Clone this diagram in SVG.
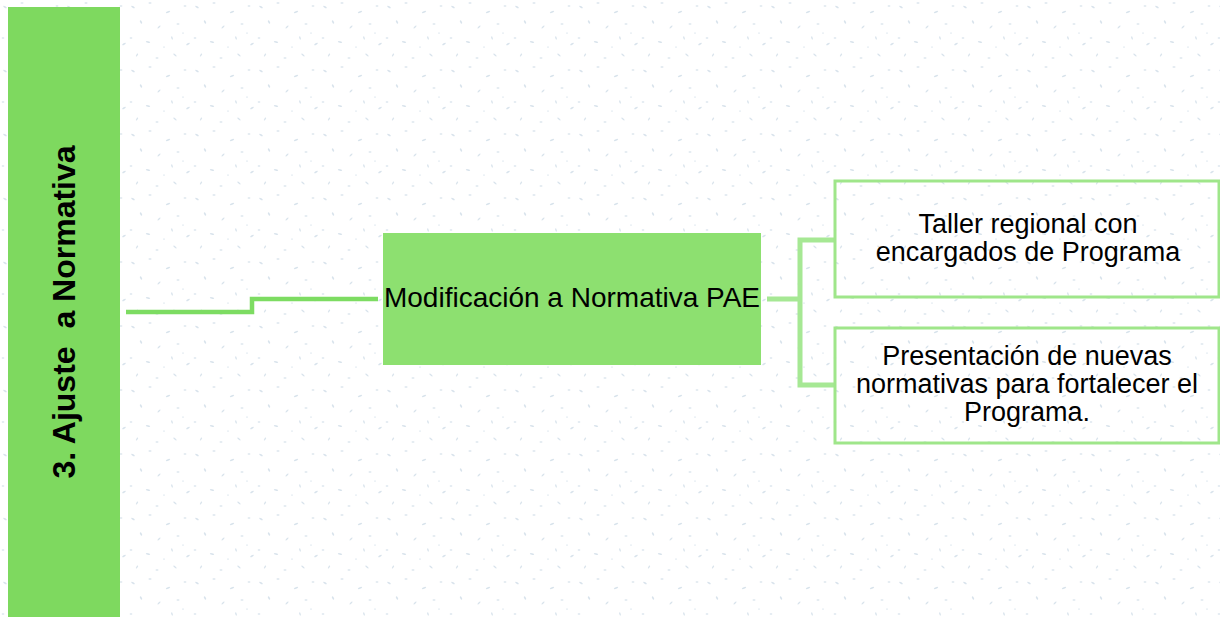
<svg xmlns="http://www.w3.org/2000/svg" width="1220" height="617" viewBox="0 0 1220 617">
<style>
  .t { font-family: "Liberation Sans", Arial, sans-serif; fill: #000; }
  .rb { fill: none; stroke: #9fe68a; stroke-width: 3; }
  .cl { fill: none; stroke: #7ddc62; stroke-width: 4.5; }
  .cr { fill: none; stroke: #a6e894; stroke-width: 5; }
</style>
<defs>
  <pattern id="speck" width="64" height="64" patternUnits="userSpaceOnUse">
    <rect width="64" height="64" fill="#ffffff"/>
    <g fill="#d8e3ec">
      <ellipse cx="5" cy="7" rx="2" ry="0.8" transform="rotate(30 5 7)"/>
      <ellipse cx="22" cy="3" rx="1.6" ry="0.7"/>
      <ellipse cx="40" cy="12" rx="2.2" ry="0.8" transform="rotate(-20 40 12)"/>
      <ellipse cx="57" cy="6" rx="1.4" ry="0.7"/>
      <ellipse cx="13" cy="22" rx="1.8" ry="0.8" transform="rotate(60 13 22)"/>
      <ellipse cx="31" cy="27" rx="2" ry="0.7" transform="rotate(-45 31 27)"/>
      <ellipse cx="50" cy="24" rx="1.5" ry="0.8"/>
      <ellipse cx="3" cy="38" rx="1.3" ry="0.7"/>
      <ellipse cx="20" cy="42" rx="2.2" ry="0.8" transform="rotate(15 20 42)"/>
      <ellipse cx="44" cy="38" rx="1.7" ry="0.7" transform="rotate(70 44 38)"/>
      <ellipse cx="60" cy="44" rx="2" ry="0.8" transform="rotate(-30 60 44)"/>
      <ellipse cx="9" cy="55" rx="1.8" ry="0.7" transform="rotate(-60 9 55)"/>
      <ellipse cx="29" cy="58" rx="1.5" ry="0.8"/>
      <ellipse cx="47" cy="55" rx="2.1" ry="0.7" transform="rotate(40 47 55)"/>
      <ellipse cx="36" cy="47" rx="1" ry="0.6"/>
      <ellipse cx="55" cy="33" rx="1" ry="0.6"/>
    </g>
  </pattern>
</defs>
<rect width="1220" height="617" fill="url(#speck)"/>

<g id="connectors">
  <polyline class="cl" points="126,312 252,312 252,299 378,299"/>
  <polyline class="cr" points="767,299 800,299"/>
  <polyline class="cr" points="835,240 800,240 800,385 835,385"/>
</g>

<g id="node-ajuste">
  <rect x="8" y="7" width="112" height="610" fill="#7ed95f"/>
  <text class="t" x="0" y="0" transform="translate(75,312) rotate(-90)" text-anchor="middle" font-size="32" font-weight="bold" xml:space="preserve">3. Ajuste  a Normativa</text>
</g>

<g id="node-modificacion">
  <rect x="383" y="233" width="378" height="132" fill="#8de070"/>
  <text class="t" x="572" y="307" text-anchor="middle" font-size="28">Modificación a Normativa PAE</text>
</g>

<g id="node-taller">
  <rect class="rb" x="835" y="181" width="384" height="116"/>
  <text class="t" x="1028" y="233" text-anchor="middle" font-size="27">Taller regional con</text>
  <text class="t" x="1028" y="261" text-anchor="middle" font-size="27">encargados de Programa</text>
</g>

<g id="node-presentacion">
  <rect class="rb" x="835" y="328" width="384" height="115"/>
  <text class="t" x="1027" y="365" text-anchor="middle" font-size="27">Presentación de nuevas</text>
  <text class="t" x="1027" y="393" text-anchor="middle" font-size="27">normativas para fortalecer el</text>
  <text class="t" x="1027" y="421" text-anchor="middle" font-size="27">Programa.</text>
</g>
</svg>
